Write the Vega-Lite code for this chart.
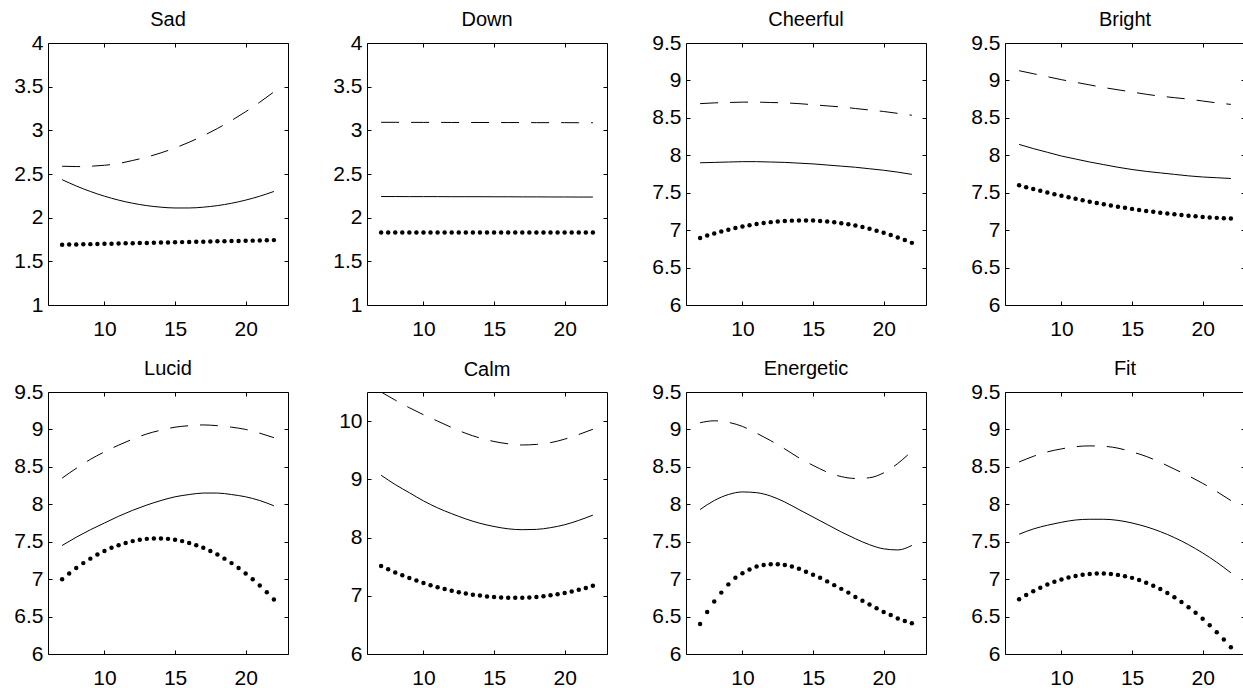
{
"$schema": "https://vega.github.io/schema/vega-lite/v6.json",
"padding": {"left": 0, "top": 9, "right": 0, "bottom": 0},
"background": "white",
"config": {
  "view": {"stroke": "black", "strokeWidth": 1},
  "font": "Liberation Sans",
  "axis": {"domain": false, "grid": false, "tickColor": "black", "tickSize": -4, "tickWidth": 1, "labelFontSize": 21, "labelFont": "Liberation Sans", "labelColor": "black", "labelPadding": 9},
  "axisLeft": {"minExtent": 47, "maxExtent": 47},
  "axisRight": {"minExtent": 0, "maxExtent": 0},
  "axisTop": {"minExtent": 0, "maxExtent": 0},
  "axisBottom": {"minExtent": 30, "maxExtent": 30, "labelPadding": 17},
  "title": {"fontSize": 20, "fontWeight": "normal", "font": "Liberation Sans", "color": "black", "offset": 2, "baseline": "alphabetic", "anchor": "middle", "frame": "group"},
  "line": {"color": "black", "strokeWidth": 1}
},
"datasets": {
"lines": [
{"p":"Sad","x":7,"u":2.589,"m":2.435},{"p":"Sad","x":8,"u":2.585,"m":2.363},{"p":"Sad","x":9,"u":2.589,"m":2.30},{"p":"Sad","x":10,"u":2.60,"m":2.246},{"p":"Sad","x":11,"u":2.62,"m":2.201},{"p":"Sad","x":12,"u":2.655,"m":2.165},{"p":"Sad","x":13,"u":2.694,"m":2.138},{"p":"Sad","x":14,"u":2.742,"m":2.12},{"p":"Sad","x":15,"u":2.799,"m":2.111},{"p":"Sad","x":16,"u":2.864,"m":2.111},{"p":"Sad","x":17,"u":2.938,"m":2.12},{"p":"Sad","x":18,"u":3.021,"m":2.138},{"p":"Sad","x":19,"u":3.113,"m":2.165},{"p":"Sad","x":20,"u":3.213,"m":2.201},{"p":"Sad","x":21,"u":3.322,"m":2.246},{"p":"Sad","x":22,"u":3.44,"m":2.30},
{"p":"Down","x":7,"u":3.092,"m":2.242},{"p":"Down","x":8,"u":3.092,"m":2.242},{"p":"Down","x":9,"u":3.091,"m":2.241},{"p":"Down","x":10,"u":3.091,"m":2.241},{"p":"Down","x":11,"u":3.091,"m":2.241},{"p":"Down","x":12,"u":3.090,"m":2.240},{"p":"Down","x":13,"u":3.090,"m":2.240},{"p":"Down","x":14,"u":3.090,"m":2.240},{"p":"Down","x":15,"u":3.089,"m":2.239},{"p":"Down","x":16,"u":3.089,"m":2.239},{"p":"Down","x":17,"u":3.089,"m":2.238},{"p":"Down","x":18,"u":3.088,"m":2.238},{"p":"Down","x":19,"u":3.088,"m":2.237},{"p":"Down","x":20,"u":3.088,"m":2.237},{"p":"Down","x":21,"u":3.087,"m":2.236},{"p":"Down","x":22,"u":3.087,"m":2.236},
{"p":"Cheerful","x":7,"u":8.69,"m":7.90},{"p":"Cheerful","x":8,"u":8.70,"m":7.905},{"p":"Cheerful","x":9,"u":8.705,"m":7.91},{"p":"Cheerful","x":10,"u":8.71,"m":7.915},{"p":"Cheerful","x":11,"u":8.71,"m":7.915},{"p":"Cheerful","x":12,"u":8.705,"m":7.91},{"p":"Cheerful","x":13,"u":8.70,"m":7.905},{"p":"Cheerful","x":14,"u":8.69,"m":7.895},{"p":"Cheerful","x":15,"u":8.675,"m":7.885},{"p":"Cheerful","x":16,"u":8.66,"m":7.87},{"p":"Cheerful","x":17,"u":8.645,"m":7.855},{"p":"Cheerful","x":18,"u":8.625,"m":7.84},{"p":"Cheerful","x":19,"u":8.605,"m":7.82},{"p":"Cheerful","x":20,"u":8.585,"m":7.80},{"p":"Cheerful","x":21,"u":8.56,"m":7.775},{"p":"Cheerful","x":22,"u":8.535,"m":7.745},
{"p":"Bright","x":7,"u":9.13,"m":8.145},{"p":"Bright","x":8,"u":9.09,"m":8.09},{"p":"Bright","x":9,"u":9.05,"m":8.04},{"p":"Bright","x":10,"u":9.01,"m":7.99},{"p":"Bright","x":11,"u":8.975,"m":7.95},{"p":"Bright","x":12,"u":8.94,"m":7.91},{"p":"Bright","x":13,"u":8.905,"m":7.875},{"p":"Bright","x":14,"u":8.875,"m":7.84},{"p":"Bright","x":15,"u":8.845,"m":7.81},{"p":"Bright","x":16,"u":8.815,"m":7.785},{"p":"Bright","x":17,"u":8.79,"m":7.765},{"p":"Bright","x":18,"u":8.77,"m":7.745},{"p":"Bright","x":19,"u":8.75,"m":7.725},{"p":"Bright","x":20,"u":8.725,"m":7.71},{"p":"Bright","x":21,"u":8.70,"m":7.70},{"p":"Bright","x":22,"u":8.68,"m":7.69},
{"p":"Lucid","x":7,"u":8.35,"m":7.45},{"p":"Lucid","x":8,"u":8.48,"m":7.56},{"p":"Lucid","x":9,"u":8.60,"m":7.66},{"p":"Lucid","x":10,"u":8.70,"m":7.75},{"p":"Lucid","x":11,"u":8.79,"m":7.84},{"p":"Lucid","x":12,"u":8.87,"m":7.92},{"p":"Lucid","x":13,"u":8.94,"m":7.99},{"p":"Lucid","x":14,"u":8.99,"m":8.05},{"p":"Lucid","x":15,"u":9.03,"m":8.10},{"p":"Lucid","x":16,"u":9.05,"m":8.13},{"p":"Lucid","x":17,"u":9.06,"m":8.15},{"p":"Lucid","x":18,"u":9.05,"m":8.15},{"p":"Lucid","x":19,"u":9.03,"m":8.13},{"p":"Lucid","x":20,"u":9.00,"m":8.10},{"p":"Lucid","x":21,"u":8.95,"m":8.05},{"p":"Lucid","x":22,"u":8.89,"m":7.98},
{"p":"Calm","x":7,"u":10.5,"m":9.07},{"p":"Calm","x":8,"u":10.36,"m":8.91},{"p":"Calm","x":9,"u":10.23,"m":8.77},{"p":"Calm","x":10,"u":10.11,"m":8.63},{"p":"Calm","x":11,"u":10.0,"m":8.51},{"p":"Calm","x":12,"u":9.89,"m":8.41},{"p":"Calm","x":13,"u":9.79,"m":8.32},{"p":"Calm","x":14,"u":9.71,"m":8.245},{"p":"Calm","x":15,"u":9.65,"m":8.19},{"p":"Calm","x":16,"u":9.61,"m":8.15},{"p":"Calm","x":17,"u":9.59,"m":8.135},{"p":"Calm","x":18,"u":9.60,"m":8.14},{"p":"Calm","x":19,"u":9.63,"m":8.17},{"p":"Calm","x":20,"u":9.69,"m":8.22},{"p":"Calm","x":21,"u":9.77,"m":8.295},{"p":"Calm","x":22,"u":9.86,"m":8.385},
{"p":"Energetic","x":7,"u":9.09,"m":7.93},{"p":"Energetic","x":8,"u":9.115,"m":8.05},{"p":"Energetic","x":9,"u":9.095,"m":8.13},{"p":"Energetic","x":10,"u":9.04,"m":8.165},{"p":"Energetic","x":11,"u":8.95,"m":8.155},{"p":"Energetic","x":12,"u":8.85,"m":8.11},{"p":"Energetic","x":13,"u":8.74,"m":8.03},{"p":"Energetic","x":14,"u":8.62,"m":7.93},{"p":"Energetic","x":15,"u":8.52,"m":7.83},{"p":"Energetic","x":16,"u":8.43,"m":7.73},{"p":"Energetic","x":17,"u":8.37,"m":7.63},{"p":"Energetic","x":18,"u":8.345,"m":7.54},{"p":"Energetic","x":19,"u":8.355,"m":7.46},{"p":"Energetic","x":20,"u":8.42,"m":7.405},{"p":"Energetic","x":21,"u":8.545,"m":7.39},{"p":"Energetic","x":22,"u":8.71,"m":7.45},
{"p":"Fit","x":7,"u":8.565,"m":7.60},{"p":"Fit","x":8,"u":8.64,"m":7.67},{"p":"Fit","x":9,"u":8.70,"m":7.72},{"p":"Fit","x":10,"u":8.74,"m":7.76},{"p":"Fit","x":11,"u":8.77,"m":7.79},{"p":"Fit","x":12,"u":8.78,"m":7.80},{"p":"Fit","x":13,"u":8.775,"m":7.80},{"p":"Fit","x":14,"u":8.75,"m":7.785},{"p":"Fit","x":15,"u":8.70,"m":7.75},{"p":"Fit","x":16,"u":8.64,"m":7.70},{"p":"Fit","x":17,"u":8.56,"m":7.635},{"p":"Fit","x":18,"u":8.47,"m":7.555},{"p":"Fit","x":19,"u":8.38,"m":7.46},{"p":"Fit","x":20,"u":8.28,"m":7.35},{"p":"Fit","x":21,"u":8.17,"m":7.225},{"p":"Fit","x":22,"u":8.05,"m":7.085}
],
"dots": [
{"p":"Sad","x":7,"l":1.690},{"p":"Sad","x":7.5,"l":1.692},{"p":"Sad","x":8,"l":1.694},{"p":"Sad","x":8.5,"l":1.695},{"p":"Sad","x":9,"l":1.697},{"p":"Sad","x":9.5,"l":1.699},{"p":"Sad","x":10,"l":1.701},{"p":"Sad","x":10.5,"l":1.702},{"p":"Sad","x":11,"l":1.704},{"p":"Sad","x":11.5,"l":1.706},{"p":"Sad","x":12,"l":1.708},{"p":"Sad","x":12.5,"l":1.709},{"p":"Sad","x":13,"l":1.711},{"p":"Sad","x":13.5,"l":1.713},{"p":"Sad","x":14,"l":1.715},{"p":"Sad","x":14.5,"l":1.716},{"p":"Sad","x":15,"l":1.718},{"p":"Sad","x":15.5,"l":1.720},{"p":"Sad","x":16,"l":1.722},{"p":"Sad","x":16.5,"l":1.723},{"p":"Sad","x":17,"l":1.725},{"p":"Sad","x":17.5,"l":1.727},{"p":"Sad","x":18,"l":1.729},{"p":"Sad","x":18.5,"l":1.730},{"p":"Sad","x":19,"l":1.732},{"p":"Sad","x":19.5,"l":1.734},{"p":"Sad","x":20,"l":1.736},{"p":"Sad","x":20.5,"l":1.737},{"p":"Sad","x":21,"l":1.739},{"p":"Sad","x":21.5,"l":1.741},{"p":"Sad","x":22,"l":1.743},
{"p":"Down","x":7,"l":1.83},{"p":"Down","x":7.5,"l":1.83},{"p":"Down","x":8,"l":1.83},{"p":"Down","x":8.5,"l":1.83},{"p":"Down","x":9,"l":1.83},{"p":"Down","x":9.5,"l":1.83},{"p":"Down","x":10,"l":1.83},{"p":"Down","x":10.5,"l":1.83},{"p":"Down","x":11,"l":1.83},{"p":"Down","x":11.5,"l":1.83},{"p":"Down","x":12,"l":1.83},{"p":"Down","x":12.5,"l":1.83},{"p":"Down","x":13,"l":1.83},{"p":"Down","x":13.5,"l":1.83},{"p":"Down","x":14,"l":1.83},{"p":"Down","x":14.5,"l":1.83},{"p":"Down","x":15,"l":1.83},{"p":"Down","x":15.5,"l":1.83},{"p":"Down","x":16,"l":1.83},{"p":"Down","x":16.5,"l":1.83},{"p":"Down","x":17,"l":1.83},{"p":"Down","x":17.5,"l":1.83},{"p":"Down","x":18,"l":1.83},{"p":"Down","x":18.5,"l":1.83},{"p":"Down","x":19,"l":1.83},{"p":"Down","x":19.5,"l":1.83},{"p":"Down","x":20,"l":1.83},{"p":"Down","x":20.5,"l":1.83},{"p":"Down","x":21,"l":1.83},{"p":"Down","x":21.5,"l":1.83},{"p":"Down","x":22,"l":1.83},
{"p":"Cheerful","x":7,"l":6.896},{"p":"Cheerful","x":7.5,"l":6.927},{"p":"Cheerful","x":8,"l":6.955},{"p":"Cheerful","x":8.5,"l":6.982},{"p":"Cheerful","x":9,"l":7.006},{"p":"Cheerful","x":9.5,"l":7.029},{"p":"Cheerful","x":10,"l":7.049},{"p":"Cheerful","x":10.5,"l":7.066},{"p":"Cheerful","x":11,"l":7.082},{"p":"Cheerful","x":11.5,"l":7.096},{"p":"Cheerful","x":12,"l":7.107},{"p":"Cheerful","x":12.5,"l":7.116},{"p":"Cheerful","x":13,"l":7.123},{"p":"Cheerful","x":13.5,"l":7.127},{"p":"Cheerful","x":14,"l":7.13},{"p":"Cheerful","x":14.5,"l":7.13},{"p":"Cheerful","x":15,"l":7.128},{"p":"Cheerful","x":15.5,"l":7.123},{"p":"Cheerful","x":16,"l":7.115},{"p":"Cheerful","x":16.5,"l":7.106},{"p":"Cheerful","x":17,"l":7.093},{"p":"Cheerful","x":17.5,"l":7.078},{"p":"Cheerful","x":18,"l":7.061},{"p":"Cheerful","x":18.5,"l":7.041},{"p":"Cheerful","x":19,"l":7.018},{"p":"Cheerful","x":19.5,"l":6.993},{"p":"Cheerful","x":20,"l":6.966},{"p":"Cheerful","x":20.5,"l":6.936},{"p":"Cheerful","x":21,"l":6.903},{"p":"Cheerful","x":21.5,"l":6.868},{"p":"Cheerful","x":22,"l":6.83},
{"p":"Bright","x":7,"l":7.600},{"p":"Bright","x":7.5,"l":7.574},{"p":"Bright","x":8,"l":7.549},{"p":"Bright","x":8.5,"l":7.525},{"p":"Bright","x":9,"l":7.502},{"p":"Bright","x":9.5,"l":7.480},{"p":"Bright","x":10,"l":7.459},{"p":"Bright","x":10.5,"l":7.438},{"p":"Bright","x":11,"l":7.418},{"p":"Bright","x":11.5,"l":7.399},{"p":"Bright","x":12,"l":7.380},{"p":"Bright","x":12.5,"l":7.362},{"p":"Bright","x":13,"l":7.345},{"p":"Bright","x":13.5,"l":7.329},{"p":"Bright","x":14,"l":7.313},{"p":"Bright","x":14.5,"l":7.298},{"p":"Bright","x":15,"l":7.284},{"p":"Bright","x":15.5,"l":7.270},{"p":"Bright","x":16,"l":7.257},{"p":"Bright","x":16.5,"l":7.245},{"p":"Bright","x":17,"l":7.233},{"p":"Bright","x":17.5,"l":7.222},{"p":"Bright","x":18,"l":7.212},{"p":"Bright","x":18.5,"l":7.202},{"p":"Bright","x":19,"l":7.193},{"p":"Bright","x":19.5,"l":7.185},{"p":"Bright","x":20,"l":7.177},{"p":"Bright","x":20.5,"l":7.170},{"p":"Bright","x":21,"l":7.164},{"p":"Bright","x":21.5,"l":7.159},{"p":"Bright","x":22,"l":7.155},
{"p":"Lucid","x":7,"l":6.998},{"p":"Lucid","x":7.5,"l":7.076},{"p":"Lucid","x":8,"l":7.148},{"p":"Lucid","x":8.5,"l":7.214},{"p":"Lucid","x":9,"l":7.274},{"p":"Lucid","x":9.5,"l":7.328},{"p":"Lucid","x":10,"l":7.376},{"p":"Lucid","x":10.5,"l":7.418},{"p":"Lucid","x":11,"l":7.454},{"p":"Lucid","x":11.5,"l":7.484},{"p":"Lucid","x":12,"l":7.508},{"p":"Lucid","x":12.5,"l":7.526},{"p":"Lucid","x":13,"l":7.538},{"p":"Lucid","x":13.5,"l":7.544},{"p":"Lucid","x":14,"l":7.544},{"p":"Lucid","x":14.5,"l":7.538},{"p":"Lucid","x":15,"l":7.526},{"p":"Lucid","x":15.5,"l":7.508},{"p":"Lucid","x":16,"l":7.484},{"p":"Lucid","x":16.5,"l":7.454},{"p":"Lucid","x":17,"l":7.418},{"p":"Lucid","x":17.5,"l":7.376},{"p":"Lucid","x":18,"l":7.328},{"p":"Lucid","x":18.5,"l":7.274},{"p":"Lucid","x":19,"l":7.214},{"p":"Lucid","x":19.5,"l":7.148},{"p":"Lucid","x":20,"l":7.076},{"p":"Lucid","x":20.5,"l":6.998},{"p":"Lucid","x":21,"l":6.914},{"p":"Lucid","x":21.5,"l":6.824},{"p":"Lucid","x":22,"l":6.728},
{"p":"Calm","x":7,"l":7.510},{"p":"Calm","x":7.5,"l":7.454},{"p":"Calm","x":8,"l":7.401},{"p":"Calm","x":8.5,"l":7.352},{"p":"Calm","x":9,"l":7.305},{"p":"Calm","x":9.5,"l":7.261},{"p":"Calm","x":10,"l":7.220},{"p":"Calm","x":10.5,"l":7.182},{"p":"Calm","x":11,"l":7.148},{"p":"Calm","x":11.5,"l":7.116},{"p":"Calm","x":12,"l":7.087},{"p":"Calm","x":12.5,"l":7.062},{"p":"Calm","x":13,"l":7.039},{"p":"Calm","x":13.5,"l":7.019},{"p":"Calm","x":14,"l":7.003},{"p":"Calm","x":14.5,"l":6.989},{"p":"Calm","x":15,"l":6.979},{"p":"Calm","x":15.5,"l":6.971},{"p":"Calm","x":16,"l":6.967},{"p":"Calm","x":16.5,"l":6.965},{"p":"Calm","x":17,"l":6.967},{"p":"Calm","x":17.5,"l":6.972},{"p":"Calm","x":18,"l":6.980},{"p":"Calm","x":18.5,"l":6.992},{"p":"Calm","x":19,"l":7.008},{"p":"Calm","x":19.5,"l":7.026},{"p":"Calm","x":20,"l":7.048},{"p":"Calm","x":20.5,"l":7.074},{"p":"Calm","x":21,"l":7.103},{"p":"Calm","x":21.5,"l":7.135},{"p":"Calm","x":22,"l":7.171},
{"p":"Energetic","x":7,"l":6.40},{"p":"Energetic","x":7.5,"l":6.56},{"p":"Energetic","x":8,"l":6.70},{"p":"Energetic","x":8.5,"l":6.82},{"p":"Energetic","x":9,"l":6.93},{"p":"Energetic","x":9.5,"l":7.02},{"p":"Energetic","x":10,"l":7.08},{"p":"Energetic","x":10.5,"l":7.13},{"p":"Energetic","x":11,"l":7.17},{"p":"Energetic","x":11.5,"l":7.19},{"p":"Energetic","x":12,"l":7.20},{"p":"Energetic","x":12.5,"l":7.20},{"p":"Energetic","x":13,"l":7.19},{"p":"Energetic","x":13.5,"l":7.17},{"p":"Energetic","x":14,"l":7.14},{"p":"Energetic","x":14.5,"l":7.10},{"p":"Energetic","x":15,"l":7.06},{"p":"Energetic","x":15.5,"l":7.02},{"p":"Energetic","x":16,"l":6.97},{"p":"Energetic","x":16.5,"l":6.92},{"p":"Energetic","x":17,"l":6.87},{"p":"Energetic","x":17.5,"l":6.82},{"p":"Energetic","x":18,"l":6.76},{"p":"Energetic","x":18.5,"l":6.71},{"p":"Energetic","x":19,"l":6.66},{"p":"Energetic","x":19.5,"l":6.61},{"p":"Energetic","x":20,"l":6.56},{"p":"Energetic","x":20.5,"l":6.52},{"p":"Energetic","x":21,"l":6.475},{"p":"Energetic","x":21.5,"l":6.44},{"p":"Energetic","x":22,"l":6.41},
{"p":"Fit","x":7,"l":6.730},{"p":"Fit","x":7.5,"l":6.787},{"p":"Fit","x":8,"l":6.839},{"p":"Fit","x":8.5,"l":6.886},{"p":"Fit","x":9,"l":6.928},{"p":"Fit","x":9.5,"l":6.965},{"p":"Fit","x":10,"l":6.996},{"p":"Fit","x":10.5,"l":7.022},{"p":"Fit","x":11,"l":7.043},{"p":"Fit","x":11.5,"l":7.059},{"p":"Fit","x":12,"l":7.069},{"p":"Fit","x":12.5,"l":7.074},{"p":"Fit","x":13,"l":7.074},{"p":"Fit","x":13.5,"l":7.069},{"p":"Fit","x":14,"l":7.057},{"p":"Fit","x":14.5,"l":7.040},{"p":"Fit","x":15,"l":7.017},{"p":"Fit","x":15.5,"l":6.988},{"p":"Fit","x":16,"l":6.953},{"p":"Fit","x":16.5,"l":6.913},{"p":"Fit","x":17,"l":6.867},{"p":"Fit","x":17.5,"l":6.815},{"p":"Fit","x":18,"l":6.758},{"p":"Fit","x":18.5,"l":6.694},{"p":"Fit","x":19,"l":6.625},{"p":"Fit","x":19.5,"l":6.551},{"p":"Fit","x":20,"l":6.470},{"p":"Fit","x":20.5,"l":6.384},{"p":"Fit","x":21,"l":6.292},{"p":"Fit","x":21.5,"l":6.194},{"p":"Fit","x":22,"l":6.090}
]
},
"columns": 4,
"spacing": {"row": 18, "column": 30},
"concat": [
{"title": {"text": "Sad", "offset": 2}, "width": 240, "height": 262, "resolve": {"axis": {"x": "independent", "y": "independent"}},
 "layer": [
  {"data": {"name": "lines"}, "transform": [{"filter": "datum.p == 'Sad'"}], "mark": {"type": "line", "strokeDash": [18, 12], "interpolate": "monotone", "clip": true},
   "encoding": {"x": {"field": "x", "type": "quantitative", "title": null, "scale": {"domain": [6, 23], "nice": false, "zero": false}, "axis": {"values": [10, 15, 20], "format": ".1~f"}},
                "y": {"field": "u", "type": "quantitative", "title": null, "scale": {"domain": [1, 4], "nice": false, "zero": false}, "axis": {"values": [1, 1.5, 2, 2.5, 3, 3.5, 4], "format": ".1~f"}}}},
  {"data": {"name": "lines"}, "transform": [{"filter": "datum.p == 'Sad'"}], "mark": {"type": "line", "interpolate": "monotone", "clip": true},
   "encoding": {"x": {"field": "x", "type": "quantitative", "title": null, "scale": {"domain": [6, 23], "nice": false, "zero": false}, "axis": {"orient": "top", "labels": false, "values": [10, 15, 20]}},
                "y": {"field": "m", "type": "quantitative", "title": null, "scale": {"domain": [1, 4], "nice": false, "zero": false}, "axis": {"orient": "right", "labels": false, "values": [1, 1.5, 2, 2.5, 3, 3.5, 4]}}}},
  {"data": {"name": "dots"}, "transform": [{"filter": "datum.p == 'Sad'"}], "mark": {"type": "circle", "size": 20, "opacity": 1, "color": "black", "clip": true},
   "encoding": {"x": {"field": "x", "type": "quantitative", "scale": {"domain": [6, 23], "nice": false, "zero": false}, "axis": null},
                "y": {"field": "l", "type": "quantitative", "scale": {"domain": [1, 4], "nice": false, "zero": false}, "axis": null}}}
 ]},
{"title": {"text": "Down", "offset": 2}, "width": 240, "height": 262, "resolve": {"axis": {"x": "independent", "y": "independent"}},
 "layer": [
  {"data": {"name": "lines"}, "transform": [{"filter": "datum.p == 'Down'"}], "mark": {"type": "line", "strokeDash": [18, 12], "interpolate": "monotone", "clip": true},
   "encoding": {"x": {"field": "x", "type": "quantitative", "title": null, "scale": {"domain": [6, 23], "nice": false, "zero": false}, "axis": {"values": [10, 15, 20], "format": ".1~f"}},
                "y": {"field": "u", "type": "quantitative", "title": null, "scale": {"domain": [1, 4], "nice": false, "zero": false}, "axis": {"values": [1, 1.5, 2, 2.5, 3, 3.5, 4], "format": ".1~f"}}}},
  {"data": {"name": "lines"}, "transform": [{"filter": "datum.p == 'Down'"}], "mark": {"type": "line", "interpolate": "monotone", "clip": true},
   "encoding": {"x": {"field": "x", "type": "quantitative", "title": null, "scale": {"domain": [6, 23], "nice": false, "zero": false}, "axis": {"orient": "top", "labels": false, "values": [10, 15, 20]}},
                "y": {"field": "m", "type": "quantitative", "title": null, "scale": {"domain": [1, 4], "nice": false, "zero": false}, "axis": {"orient": "right", "labels": false, "values": [1, 1.5, 2, 2.5, 3, 3.5, 4]}}}},
  {"data": {"name": "dots"}, "transform": [{"filter": "datum.p == 'Down'"}], "mark": {"type": "circle", "size": 20, "opacity": 1, "color": "black", "clip": true},
   "encoding": {"x": {"field": "x", "type": "quantitative", "scale": {"domain": [6, 23], "nice": false, "zero": false}, "axis": null},
                "y": {"field": "l", "type": "quantitative", "scale": {"domain": [1, 4], "nice": false, "zero": false}, "axis": null}}}
 ]},
{"title": {"text": "Cheerful", "offset": 2}, "width": 240, "height": 262, "resolve": {"axis": {"x": "independent", "y": "independent"}},
 "layer": [
  {"data": {"name": "lines"}, "transform": [{"filter": "datum.p == 'Cheerful'"}], "mark": {"type": "line", "strokeDash": [18, 12], "interpolate": "monotone", "clip": true},
   "encoding": {"x": {"field": "x", "type": "quantitative", "title": null, "scale": {"domain": [6, 23], "nice": false, "zero": false}, "axis": {"values": [10, 15, 20], "format": ".1~f"}},
                "y": {"field": "u", "type": "quantitative", "title": null, "scale": {"domain": [6, 9.5], "nice": false, "zero": false}, "axis": {"values": [6, 6.5, 7, 7.5, 8, 8.5, 9, 9.5], "format": ".1~f"}}}},
  {"data": {"name": "lines"}, "transform": [{"filter": "datum.p == 'Cheerful'"}], "mark": {"type": "line", "interpolate": "monotone", "clip": true},
   "encoding": {"x": {"field": "x", "type": "quantitative", "title": null, "scale": {"domain": [6, 23], "nice": false, "zero": false}, "axis": {"orient": "top", "labels": false, "values": [10, 15, 20]}},
                "y": {"field": "m", "type": "quantitative", "title": null, "scale": {"domain": [6, 9.5], "nice": false, "zero": false}, "axis": {"orient": "right", "labels": false, "values": [6, 6.5, 7, 7.5, 8, 8.5, 9, 9.5]}}}},
  {"data": {"name": "dots"}, "transform": [{"filter": "datum.p == 'Cheerful'"}], "mark": {"type": "circle", "size": 20, "opacity": 1, "color": "black", "clip": true},
   "encoding": {"x": {"field": "x", "type": "quantitative", "scale": {"domain": [6, 23], "nice": false, "zero": false}, "axis": null},
                "y": {"field": "l", "type": "quantitative", "scale": {"domain": [6, 9.5], "nice": false, "zero": false}, "axis": null}}}
 ]},
{"title": {"text": "Bright", "offset": 2}, "width": 240, "height": 262, "resolve": {"axis": {"x": "independent", "y": "independent"}},
 "layer": [
  {"data": {"name": "lines"}, "transform": [{"filter": "datum.p == 'Bright'"}], "mark": {"type": "line", "strokeDash": [18, 12], "interpolate": "monotone", "clip": true},
   "encoding": {"x": {"field": "x", "type": "quantitative", "title": null, "scale": {"domain": [6, 23], "nice": false, "zero": false}, "axis": {"values": [10, 15, 20], "format": ".1~f"}},
                "y": {"field": "u", "type": "quantitative", "title": null, "scale": {"domain": [6, 9.5], "nice": false, "zero": false}, "axis": {"values": [6, 6.5, 7, 7.5, 8, 8.5, 9, 9.5], "format": ".1~f"}}}},
  {"data": {"name": "lines"}, "transform": [{"filter": "datum.p == 'Bright'"}], "mark": {"type": "line", "interpolate": "monotone", "clip": true},
   "encoding": {"x": {"field": "x", "type": "quantitative", "title": null, "scale": {"domain": [6, 23], "nice": false, "zero": false}, "axis": {"orient": "top", "labels": false, "values": [10, 15, 20]}},
                "y": {"field": "m", "type": "quantitative", "title": null, "scale": {"domain": [6, 9.5], "nice": false, "zero": false}, "axis": {"orient": "right", "labels": false, "values": [6, 6.5, 7, 7.5, 8, 8.5, 9, 9.5]}}}},
  {"data": {"name": "dots"}, "transform": [{"filter": "datum.p == 'Bright'"}], "mark": {"type": "circle", "size": 20, "opacity": 1, "color": "black", "clip": true},
   "encoding": {"x": {"field": "x", "type": "quantitative", "scale": {"domain": [6, 23], "nice": false, "zero": false}, "axis": null},
                "y": {"field": "l", "type": "quantitative", "scale": {"domain": [6, 9.5], "nice": false, "zero": false}, "axis": null}}}
 ]},
{"title": {"text": "Lucid", "offset": 2}, "width": 240, "height": 262, "resolve": {"axis": {"x": "independent", "y": "independent"}},
 "layer": [
  {"data": {"name": "lines"}, "transform": [{"filter": "datum.p == 'Lucid'"}], "mark": {"type": "line", "strokeDash": [18, 12], "interpolate": "monotone", "clip": true},
   "encoding": {"x": {"field": "x", "type": "quantitative", "title": null, "scale": {"domain": [6, 23], "nice": false, "zero": false}, "axis": {"values": [10, 15, 20], "format": ".1~f"}},
                "y": {"field": "u", "type": "quantitative", "title": null, "scale": {"domain": [6, 9.5], "nice": false, "zero": false}, "axis": {"values": [6, 6.5, 7, 7.5, 8, 8.5, 9, 9.5], "format": ".1~f"}}}},
  {"data": {"name": "lines"}, "transform": [{"filter": "datum.p == 'Lucid'"}], "mark": {"type": "line", "interpolate": "monotone", "clip": true},
   "encoding": {"x": {"field": "x", "type": "quantitative", "title": null, "scale": {"domain": [6, 23], "nice": false, "zero": false}, "axis": {"orient": "top", "labels": false, "values": [10, 15, 20]}},
                "y": {"field": "m", "type": "quantitative", "title": null, "scale": {"domain": [6, 9.5], "nice": false, "zero": false}, "axis": {"orient": "right", "labels": false, "values": [6, 6.5, 7, 7.5, 8, 8.5, 9, 9.5]}}}},
  {"data": {"name": "dots"}, "transform": [{"filter": "datum.p == 'Lucid'"}], "mark": {"type": "circle", "size": 20, "opacity": 1, "color": "black", "clip": true},
   "encoding": {"x": {"field": "x", "type": "quantitative", "scale": {"domain": [6, 23], "nice": false, "zero": false}, "axis": null},
                "y": {"field": "l", "type": "quantitative", "scale": {"domain": [6, 9.5], "nice": false, "zero": false}, "axis": null}}}
 ]},
{"title": {"text": "Calm", "offset": 12}, "width": 240, "height": 262, "resolve": {"axis": {"x": "independent", "y": "independent"}},
 "layer": [
  {"data": {"name": "lines"}, "transform": [{"filter": "datum.p == 'Calm'"}], "mark": {"type": "line", "strokeDash": [18, 12], "interpolate": "monotone", "clip": true},
   "encoding": {"x": {"field": "x", "type": "quantitative", "title": null, "scale": {"domain": [6, 23], "nice": false, "zero": false}, "axis": {"values": [10, 15, 20], "format": ".1~f"}},
                "y": {"field": "u", "type": "quantitative", "title": null, "scale": {"domain": [6, 10.5], "nice": false, "zero": false}, "axis": {"values": [6, 7, 8, 9, 10], "format": ".1~f"}}}},
  {"data": {"name": "lines"}, "transform": [{"filter": "datum.p == 'Calm'"}], "mark": {"type": "line", "interpolate": "monotone", "clip": true},
   "encoding": {"x": {"field": "x", "type": "quantitative", "title": null, "scale": {"domain": [6, 23], "nice": false, "zero": false}, "axis": {"orient": "top", "labels": false, "values": [10, 15, 20]}},
                "y": {"field": "m", "type": "quantitative", "title": null, "scale": {"domain": [6, 10.5], "nice": false, "zero": false}, "axis": {"orient": "right", "labels": false, "values": [6, 7, 8, 9, 10]}}}},
  {"data": {"name": "dots"}, "transform": [{"filter": "datum.p == 'Calm'"}], "mark": {"type": "circle", "size": 20, "opacity": 1, "color": "black", "clip": true},
   "encoding": {"x": {"field": "x", "type": "quantitative", "scale": {"domain": [6, 23], "nice": false, "zero": false}, "axis": null},
                "y": {"field": "l", "type": "quantitative", "scale": {"domain": [6, 10.5], "nice": false, "zero": false}, "axis": null}}}
 ]},
{"title": {"text": "Energetic", "offset": 2}, "width": 240, "height": 262, "resolve": {"axis": {"x": "independent", "y": "independent"}},
 "layer": [
  {"data": {"name": "lines"}, "transform": [{"filter": "datum.p == 'Energetic'"}], "mark": {"type": "line", "strokeDash": [18, 12], "interpolate": "monotone", "clip": true},
   "encoding": {"x": {"field": "x", "type": "quantitative", "title": null, "scale": {"domain": [6, 23], "nice": false, "zero": false}, "axis": {"values": [10, 15, 20], "format": ".1~f"}},
                "y": {"field": "u", "type": "quantitative", "title": null, "scale": {"domain": [6, 9.5], "nice": false, "zero": false}, "axis": {"values": [6, 6.5, 7, 7.5, 8, 8.5, 9, 9.5], "format": ".1~f"}}}},
  {"data": {"name": "lines"}, "transform": [{"filter": "datum.p == 'Energetic'"}], "mark": {"type": "line", "interpolate": "monotone", "clip": true},
   "encoding": {"x": {"field": "x", "type": "quantitative", "title": null, "scale": {"domain": [6, 23], "nice": false, "zero": false}, "axis": {"orient": "top", "labels": false, "values": [10, 15, 20]}},
                "y": {"field": "m", "type": "quantitative", "title": null, "scale": {"domain": [6, 9.5], "nice": false, "zero": false}, "axis": {"orient": "right", "labels": false, "values": [6, 6.5, 7, 7.5, 8, 8.5, 9, 9.5]}}}},
  {"data": {"name": "dots"}, "transform": [{"filter": "datum.p == 'Energetic'"}], "mark": {"type": "circle", "size": 20, "opacity": 1, "color": "black", "clip": true},
   "encoding": {"x": {"field": "x", "type": "quantitative", "scale": {"domain": [6, 23], "nice": false, "zero": false}, "axis": null},
                "y": {"field": "l", "type": "quantitative", "scale": {"domain": [6, 9.5], "nice": false, "zero": false}, "axis": null}}}
 ]},
{"title": {"text": "Fit", "offset": 2}, "width": 240, "height": 262, "resolve": {"axis": {"x": "independent", "y": "independent"}},
 "layer": [
  {"data": {"name": "lines"}, "transform": [{"filter": "datum.p == 'Fit'"}], "mark": {"type": "line", "strokeDash": [18, 12], "interpolate": "monotone", "clip": true},
   "encoding": {"x": {"field": "x", "type": "quantitative", "title": null, "scale": {"domain": [6, 23], "nice": false, "zero": false}, "axis": {"values": [10, 15, 20], "format": ".1~f"}},
                "y": {"field": "u", "type": "quantitative", "title": null, "scale": {"domain": [6, 9.5], "nice": false, "zero": false}, "axis": {"values": [6, 6.5, 7, 7.5, 8, 8.5, 9, 9.5], "format": ".1~f"}}}},
  {"data": {"name": "lines"}, "transform": [{"filter": "datum.p == 'Fit'"}], "mark": {"type": "line", "interpolate": "monotone", "clip": true},
   "encoding": {"x": {"field": "x", "type": "quantitative", "title": null, "scale": {"domain": [6, 23], "nice": false, "zero": false}, "axis": {"orient": "top", "labels": false, "values": [10, 15, 20]}},
                "y": {"field": "m", "type": "quantitative", "title": null, "scale": {"domain": [6, 9.5], "nice": false, "zero": false}, "axis": {"orient": "right", "labels": false, "values": [6, 6.5, 7, 7.5, 8, 8.5, 9, 9.5]}}}},
  {"data": {"name": "dots"}, "transform": [{"filter": "datum.p == 'Fit'"}], "mark": {"type": "circle", "size": 20, "opacity": 1, "color": "black", "clip": true},
   "encoding": {"x": {"field": "x", "type": "quantitative", "scale": {"domain": [6, 23], "nice": false, "zero": false}, "axis": null},
                "y": {"field": "l", "type": "quantitative", "scale": {"domain": [6, 9.5], "nice": false, "zero": false}, "axis": null}}}
 ]}
]
}
